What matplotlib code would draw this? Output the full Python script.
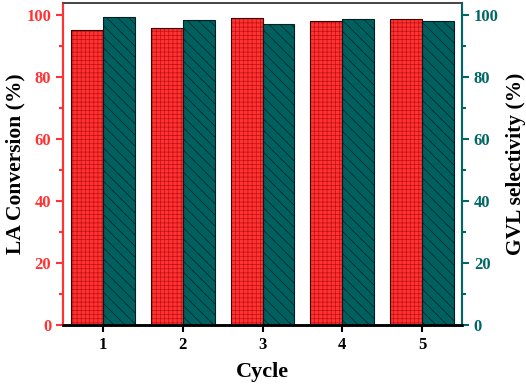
import matplotlib
matplotlib.use("Agg")
import matplotlib.pyplot as plt
import numpy as np

cycles = [1, 2, 3, 4, 5]
la_conversion = [95.2, 96.0, 99.1, 98.2, 99.0]
gvl_selectivity = [99.5, 98.4, 97.3, 99.0, 98.1]
yticks = [0, 20, 40, 60, 80, 100]

plt.rcParams['font.family'] = ['Liberation Serif', 'DejaVu Serif']
plt.rcParams['font.weight'] = 'bold'
plt.rcParams['hatch.linewidth'] = 0.5

red = '#FF3333'
red_hatch = '#C01010'
teal = '#006060'
teal_axis = '#006666'

fig = plt.figure(figsize=(5.26, 3.87), dpi=100)
ax = fig.add_axes([0.1198, 0.160, 0.7585, 0.832])
ax2 = ax.twinx()

x = np.array(cycles)
w = 0.4
ax.bar(x - w/2, la_conversion, w, color=red, edgecolor=red_hatch, hatch='++++', linewidth=0, zorder=2)
ax.bar(x - w/2, la_conversion, w, fill=False, edgecolor='#400000', linewidth=0.8, zorder=3)
ax.bar(x + w/2, gvl_selectivity, w, color=teal, edgecolor='#002020', hatch='\\\\\\', linewidth=0, zorder=2)
ax.bar(x + w/2, gvl_selectivity, w, fill=False, edgecolor='#002020', linewidth=0.8, zorder=3)

ax.set_xlim(0.5, 5.5)
ax.set_ylim(0, 104)
ax2.set_ylim(0, 104)
ax.set_xticks(cycles)
ax.set_xticklabels([str(c) for c in cycles], fontsize=12, fontweight='bold')
ax.set_yticks(yticks)
ax.set_yticklabels([str(t) for t in yticks], fontsize=12, fontweight='bold', color=red)
ax2.set_yticks(yticks)
ax2.set_yticklabels([str(t) for t in yticks], fontsize=12, fontweight='bold', color=teal_axis)
ax.set_yticks(np.arange(10, 104, 20), minor=True)
ax2.set_yticks(np.arange(10, 104, 20), minor=True)

ax.tick_params(axis='y', which='both', direction='out', colors=red, width=1.5)
ax.tick_params(axis='y', which='major', length=5)
ax.tick_params(axis='y', which='minor', length=3)
ax.tick_params(axis='y', labelcolor=red)
ax2.tick_params(axis='y', which='both', direction='out', colors=teal_axis, width=1.5)
ax2.tick_params(axis='y', which='major', length=5)
ax2.tick_params(axis='y', which='minor', length=3)
ax.tick_params(axis='x', which='major', direction='out', length=5, width=1.5, colors='black')

for a in (ax, ax2):
    a.spines['left'].set_color(red)
    a.spines['left'].set_linewidth(1.5)
    a.spines['right'].set_color(teal_axis)
    a.spines['right'].set_linewidth(1.5)
    a.spines['bottom'].set_color('black')
    a.spines['bottom'].set_linewidth(1.8)
    a.spines['top'].set_color('#444444')
    a.spines['top'].set_linewidth(1.2)

ax.set_xlabel('Cycle', fontsize=16, fontweight='bold')
ax.xaxis.set_label_coords(0.5, -0.115)
ax.set_ylabel('LA Conversion (%)', fontsize=15.5, fontweight='bold', color='black', va='center')
ax.yaxis.set_label_coords(-0.12, 0.5)
ax2.set_ylabel('GVL selectivity (%)', fontsize=15.5, fontweight='bold', color='black', va='center', rotation=90)
ax2.yaxis.set_label_coords(1.135, 0.5)

fig.savefig('out.png', dpi=100)
